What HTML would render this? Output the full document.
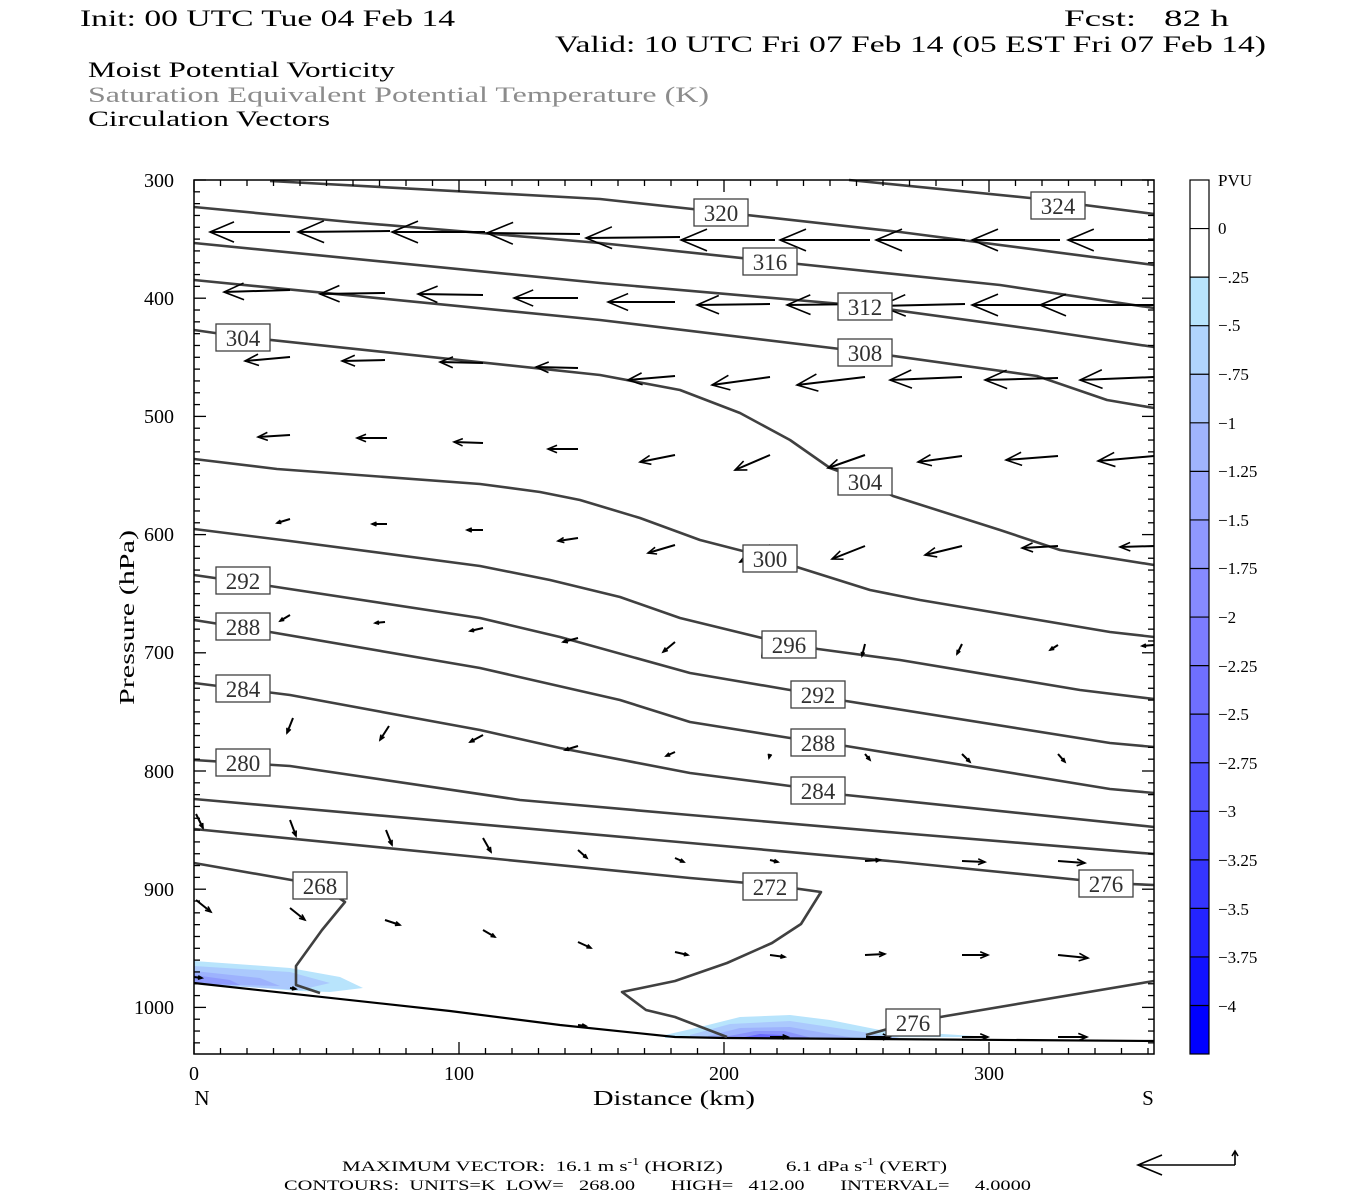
<!DOCTYPE html>
<html><head><meta charset="utf-8"><style>
html,body{margin:0;padding:0;background:#fff;width:1350px;height:1200px;overflow:hidden}
svg{display:block}
text{font-family:"Liberation Serif",serif;white-space:pre}
.cl{fill:none;stroke:#404040;stroke-width:2.6;stroke-linejoin:round}
.lb rect{fill:#fff;stroke:#404040;stroke-width:1.3}
.lb text{font-size:23px;fill:#303030;text-anchor:middle}
.tk{font-size:20px;fill:#000}
.cb{font-size:17px;fill:#000}
</style></head><body>
<svg id="s" width="1350" height="1200" viewBox="0 0 1350 1200" xmlns="http://www.w3.org/2000/svg" xml:space="preserve">
<rect width="1350" height="1200" fill="#fff"/>
<text x="80" y="26" font-size="23" textLength="375" lengthAdjust="spacingAndGlyphs">Init: 00 UTC Tue 04 Feb 14</text>
<text x="1064" y="26" font-size="23" textLength="165" lengthAdjust="spacingAndGlyphs">Fcst:   82 h</text>
<text x="555" y="52" font-size="23" textLength="711" lengthAdjust="spacingAndGlyphs">Valid: 10 UTC Fri 07 Feb 14 (05 EST Fri 07 Feb 14)</text>
<text x="88" y="77" font-size="22" textLength="307" lengthAdjust="spacingAndGlyphs">Moist Potential Vorticity</text>
<text x="88" y="102" font-size="22" fill="#8c8c8c" textLength="621" lengthAdjust="spacingAndGlyphs">Saturation Equivalent Potential Temperature (K)</text>
<text x="88" y="126" font-size="22" textLength="242" lengthAdjust="spacingAndGlyphs">Circulation Vectors</text>

<g stroke="none">
<polygon fill="#b8e4fc" points="194,961 250,965 290,968 340,977 363,988 330,992 300,991 194,983"/>
<polygon fill="#abc9fd" points="194,966 290,972 330,983 300,990 194,984"/>
<polygon fill="#9db2fd" points="194,971 260,978 280,986 194,984"/>
<polygon fill="#8e9afd" points="194,975 230,980 240,985 194,984"/>
<polygon fill="#b8e4fc" points="665,1035 700,1027 740,1017 790,1015 830,1020 880,1030 990,1037 665,1038"/>
<polygon fill="#abc9fd" points="690,1035 730,1024 790,1021 850,1030 900,1038 690,1038"/>
<polygon fill="#9db2fd" points="708,1036 740,1028 790,1027 830,1034 855,1038 708,1038"/>
<polygon fill="#8a94fd" points="724,1037 755,1031 785,1031 812,1038"/>
<polygon fill="#6868fe" points="740,1038 760,1034 780,1035 792,1038"/>
</g>

<polyline fill="none" stroke="#000" stroke-width="2.2" points="194,983 450,1011 560,1025 675,1037 725,1038 1154,1041"/>

<g class="cl">
<polyline points="849,180 1030,198 1154,214"/>
<polyline points="270,181 600,199 720,212 900,232 1154,265"/>
<polyline points="194,207 350,222 600,243 770,261 1000,285 1154,308"/>
<polyline points="194,243 600,283 865,306 1040,330 1154,347"/>
<polyline points="194,280 600,320 865,352 1037,376 1107,400 1154,408"/>
<polyline points="194,330 243,337 600,375 680,390 740,413 790,440 830,468 865,481 893,496 1000,530 1060,550 1154,565"/>
<polyline points="194,459 277,469 480,484 540,492 580,500 640,518 700,540 770,558 800,568 870,590 920,600 1110,632 1154,637"/>
<polyline points="194,529 290,541 480,566 550,580 620,597 680,618 762,638 818,649 900,660 1080,690 1154,699"/>
<polyline points="194,575 270,586 480,618 560,637 690,673 790,690 846,701 1110,743 1154,747"/>
<polyline points="194,620 270,632 480,668 620,700 690,722 790,738 846,746 1110,789 1154,793"/>
<polyline points="194,683 290,695 480,730 560,748 690,773 790,786 846,795 1154,827"/>
<polyline points="194,760 290,766 520,800 690,815 900,833 1154,854"/>
<polyline points="194,799 690,843 900,862 980,870 1080,880 1106,883 1154,885"/>
<polyline points="194,829 690,878 771,885 821,892 801,924 772,943 727,963 675,981 622,992 646,1010 675,1017 727,1037"/>
<polyline points="194,863 320,885 345,902 322,930 296,966 296,985 320,993"/>
<polyline points="866,1035 913,1022 946,1016 1154,981"/>
</g>

<g id="vec" stroke="#000" fill="none" stroke-width="2"></g>

<g class="lb">
<rect x="694" y="199" width="54" height="27"/><text x="721" y="221">320</text>
<rect x="1031" y="192" width="54" height="27"/><text x="1058" y="214">324</text>
<rect x="743" y="248" width="54" height="27"/><text x="770" y="270">316</text>
<rect x="838" y="293" width="54" height="27"/><text x="865" y="315">312</text>
<rect x="838" y="339" width="54" height="27"/><text x="865" y="361">308</text>
<rect x="216" y="324" width="54" height="27"/><text x="243" y="346">304</text>
<rect x="838" y="468" width="54" height="27"/><text x="865" y="490">304</text>
<rect x="743" y="545" width="54" height="27"/><text x="770" y="567">300</text>
<rect x="762" y="631" width="54" height="27"/><text x="789" y="653">296</text>
<rect x="216" y="567" width="54" height="27"/><text x="243" y="589">292</text>
<rect x="791" y="681" width="54" height="27"/><text x="818" y="703">292</text>
<rect x="216" y="613" width="54" height="27"/><text x="243" y="635">288</text>
<rect x="791" y="729" width="54" height="27"/><text x="818" y="751">288</text>
<rect x="216" y="675" width="54" height="27"/><text x="243" y="697">284</text>
<rect x="791" y="777" width="54" height="27"/><text x="818" y="799">284</text>
<rect x="216" y="749" width="54" height="27"/><text x="243" y="771">280</text>
<rect x="1079" y="870" width="54" height="27"/><text x="1106" y="892">276</text>
<rect x="743" y="873" width="54" height="27"/><text x="770" y="895">272</text>
<rect x="293" y="872" width="54" height="27"/><text x="320" y="894">268</text>
<rect x="886" y="1009" width="54" height="27"/><text x="913" y="1031">276</text>
</g>

<rect x="194" y="180" width="960" height="874" fill="none" stroke="#000" stroke-width="1.5"/>
<g id="ticks" stroke="#000" stroke-width="1.3"></g>

<g class="tk" text-anchor="end">
<text x="174" y="187">300</text><text x="174" y="305">400</text><text x="174" y="423">500</text>
<text x="174" y="541">600</text><text x="174" y="659">700</text><text x="174" y="778">800</text>
<text x="174" y="896">900</text><text x="174" y="1014">1000</text>
</g>
<g class="tk" text-anchor="middle">
<text x="194" y="1080">0</text><text x="459" y="1080">100</text><text x="724" y="1080">200</text><text x="989" y="1080">300</text>
<text x="202" y="1105" font-size="21">N</text><text x="1148" y="1105" font-size="21">S</text>
<text x="593" y="1105" font-size="21" text-anchor="start" textLength="162" lengthAdjust="spacingAndGlyphs">Distance (km)</text>
<text x="0" y="0" font-size="21" text-anchor="start" textLength="175" lengthAdjust="spacingAndGlyphs" transform="translate(134,705) rotate(-90)">Pressure (hPa)</text>
</g>

<g id="cbar"></g>
<rect x="1190" y="180" width="19" height="874" fill="none" stroke="#000" stroke-width="1.2"/>
<g class="cb">
<text x="1218" y="186">PVU</text>
<text x="1218" y="234">0</text><text x="1218" y="283">−.25</text><text x="1218" y="331">−.5</text>
<text x="1218" y="380">−.75</text><text x="1218" y="429">−1</text><text x="1218" y="477">−1.25</text>
<text x="1218" y="526">−1.5</text><text x="1218" y="574">−1.75</text><text x="1218" y="623">−2</text>
<text x="1218" y="672">−2.25</text><text x="1218" y="720">−2.5</text><text x="1218" y="769">−2.75</text>
<text x="1218" y="817">−3</text><text x="1218" y="866">−3.25</text><text x="1218" y="915">−3.5</text>
<text x="1218" y="963">−3.75</text><text x="1218" y="1012">−4</text>
</g>

<text x="342" y="1171" font-size="15" textLength="605" lengthAdjust="spacingAndGlyphs">MAXIMUM VECTOR:  16.1 m s<tspan dy="-6" font-size="10">-1</tspan><tspan dy="6"> (HORIZ)            6.1 dPa s</tspan><tspan dy="-6" font-size="10">-1</tspan><tspan dy="6"> (VERT)</tspan></text>
<text x="284" y="1190" font-size="15" textLength="747" lengthAdjust="spacingAndGlyphs">CONTOURS:  UNITS=K  LOW=   268.00       HIGH=   412.00       INTERVAL=     4.0000</text>
<g stroke="#000" stroke-width="1.6" fill="none">
<line x1="1138" y1="1165" x2="1235" y2="1165"/>
<polyline points="1162,1155 1138,1165 1162,1175"/>
<line x1="1235" y1="1165" x2="1235" y2="1151"/>
<polyline points="1232,1156 1235,1151 1238,1156"/>
</g>
</svg>
<script>
var NS="http://www.w3.org/2000/svg";
function el(p,t,a){var e=document.createElementNS(NS,t);for(var k in a)e.setAttribute(k,a[k]);p.appendChild(e);return e;}
var tg=document.getElementById('ticks');
for(var i=0;i<=74;i++){var y=180+i*11.82;if(y>1054.5)break;var L=(i%10==0)?12:6;
 el(tg,'line',{x1:194,y1:y,x2:194+L,y2:y});el(tg,'line',{x1:1154,y1:y,x2:1154-L,y2:y});}
for(var i=0;i<=36;i++){var x=194+i*26.5;if(x>1154.5)break;var L=(i%10==0)?12:6;
 el(tg,'line',{x1:x,y1:1054,x2:x,y2:1054-L});el(tg,'line',{x1:x,y1:180,x2:x,y2:180+L});}
var cg=document.getElementById('cbar');
var cols=["#ffffff","#ffffff","#b8e4fc","#b0d4fd","#a8c4fd","#a0b4fd","#98a6fe","#8f98fe","#868afe","#7c7cfe","#6f6ffe","#6262fe","#5454fe","#4545fe","#3535fe","#2424ff","#1212ff","#0000ff"];
for(var i=0;i<18;i++){var y=180+i*48.56;el(cg,'rect',{x:1190,y:y,width:19,height:48.56,fill:cols[i]});
 if(i>0)el(cg,'line',{x1:1190,y1:y,x2:1209,y2:y,stroke:'#000','stroke-width':1.2});}
var V=[
[290,232,210,232],[390,231,298,232],[485,232,392,232],[580,234,487,233],[680,237,586,238],[775,240,681,240],[870,240,780,240],[965,240,876,240],[1060,240,972,240],[1154,240,1068,240],
[290,290,224,292],[385,293,320,294],[483,295,418,294],[578,298,514,298],[675,302,608,302],[770,304,697,305],[865,304,787,305],[965,304,880,306],[1060,305,972,305],[1154,305,1040,305],
[290,357,245,361],[385,360,342,361],[483,363,440,362],[578,368,536,367],[675,376,628,380],[770,377,712,385],[865,377,797,385],[962,377,890,380],[1058,378,985,380],[1154,377,1080,380],
[290,435,258,437],[387,438,357,438],[483,443,454,442],[578,449,548,449],[675,455,640,462],[770,455,735,470],[865,455,828,468],[962,456,918,462],[1058,456,1006,460],[1154,456,1098,461],
[290,519,277,523],[387,524,372,524],[483,530,467,530],[578,538,558,541],[675,545,648,553],[770,545,740,562],[865,546,832,559],[962,546,925,555],[1058,546,1022,548],[1154,546,1120,547],
[290,615,280,621],[385,622,375,623],[483,628,470,631],[578,638,563,642],[675,642,663,652],[770,640,762,656],[865,644,862,656],[962,644,957,654],[1058,645,1050,650],[1154,645,1142,646],
[293,718,287,733],[389,726,380,740],[483,735,470,742],[578,746,565,750],[675,752,666,756],[770,754,769,758],[865,754,870,760],[962,754,970,762],[1058,754,1065,762],
[196,814,203,828],[290,820,296,836],[386,830,392,845],[483,838,491,852],[578,850,587,858],[675,858,684,862],[770,860,778,862],[865,861,880,860],[962,861,985,862],[1058,861,1085,863],
[196,900,211,912],[290,908,305,920],[385,920,400,925],[483,930,495,937],[578,942,591,948],[675,952,688,955],[770,955,785,957],[865,955,885,954],[962,955,988,955],[1058,955,1088,958],
[194,977,202,978],[290,988,296,989],[578,1025,586,1026],[770,1037,788,1037],[866,1037,890,1037],[962,1037,988,1037],[1058,1037,1087,1037]];
var vg=document.getElementById('vec');
V.forEach(function(v){var dx=v[2]-v[0],dy=v[3]-v[1],L=Math.sqrt(dx*dx+dy*dy);if(L<1)return;
 var ux=dx/L,uy=dy/L,h=Math.min(26,Math.max(4,L*0.3)),w=h*0.42;
 var bx=v[2]-ux*h,by=v[3]-uy*h;
 el(vg,'line',{x1:v[0],y1:v[1],x2:v[2],y2:v[3]});
 el(vg,'polyline',{points:(bx-uy*w)+','+(by+ux*w)+' '+v[2]+','+v[3]+' '+(bx+uy*w)+','+(by-ux*w),'stroke-width':1.6});});
</script>
</body></html>
